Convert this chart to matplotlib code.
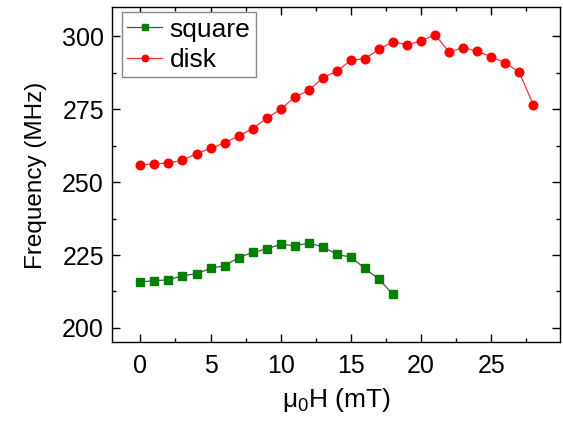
import numpy as np
import matplotlib.pyplot as plt
from matplotlib.ticker import MultipleLocator

plt.rcParams['font.family'] = ['Liberation Sans', 'DejaVu Sans']
plt.rcParams['mathtext.default'] = 'regular'

# field values (mT)
h_square = np.arange(0, 19)
h_disk = np.arange(0, 29)

# frequencies (MHz)
f_square = [215.8, 216.2, 216.5, 217.9, 218.6, 220.4, 221.4, 224.1, 225.9, 227.1,
            228.7, 228.2, 229.1, 227.8, 225.2, 224.3, 220.4, 216.7, 211.5]
f_disk = [255.9, 256.3, 256.6, 257.5, 259.8, 261.6, 263.5, 265.8, 268.4, 271.9,
          275.0, 279.2, 281.5, 285.8, 288.1, 291.8, 292.4, 295.6, 298.2, 297.1,
          298.5, 300.6, 294.6, 296.2, 294.9, 293.0, 291.0, 287.7, 276.5]

fig = plt.figure(figsize=(5.63, 4.22), dpi=100)
ax = fig.add_axes([0.1995, 0.1884, 0.7952, 0.7943])

ax.plot(h_square, f_square, '-s', color='#505050', lw=0.9,
        mfc='#008000', mec='#008000', ms=5.3, label='square')
ax.plot(h_disk, f_disk, '-o', color='#ff3030', lw=0.9,
        mfc='#ff0000', mec='#ff0000', ms=6.2, label='disk')

ax.set_xlim(-2, 29.9)
ax.set_ylim(195, 310)
ax.xaxis.set_major_locator(MultipleLocator(5))
ax.xaxis.set_minor_locator(MultipleLocator(2.5))
ax.yaxis.set_major_locator(MultipleLocator(25))
ax.yaxis.set_minor_locator(MultipleLocator(12.5))
ax.tick_params(which='both', direction='in', top=True, right=True,
               labelsize=18, width=1)
ax.tick_params(which='major', length=6)
ax.tick_params(which='minor', length=3)
ax.tick_params(axis='x', pad=8)
ax.tick_params(axis='y', pad=6)
for s in ax.spines.values():
    s.set_linewidth(1)

ax.set_xlabel(r'μ$_0$H (mT)', fontsize=19, labelpad=6)
ax.set_ylabel('Frequency (MHz)', fontsize=17.5, labelpad=11)

leg = ax.legend(loc='upper left', bbox_to_anchor=(0.022, 0.985), fontsize=19,
                fancybox=False, framealpha=1, edgecolor='#888888',
                handlelength=1.3, markerscale=0.75, borderaxespad=0,
                borderpad=0.2, labelspacing=0.25, handletextpad=0.3)
leg.get_frame().set_linewidth(1)

fig.savefig('out.png', dpi=100)
